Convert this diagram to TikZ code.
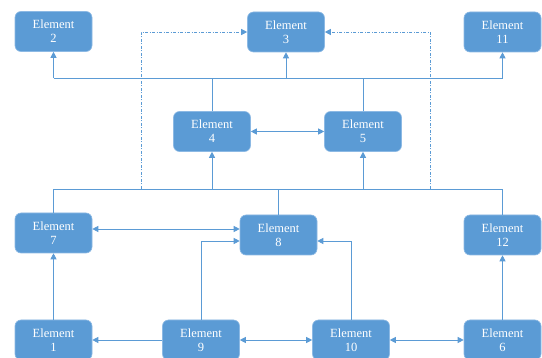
\documentclass[tikz,border=0pt]{standalone}
\usepackage{fontspec}
\setmainfont{Liberation Serif}
\usetikzlibrary{arrows.meta}
\definecolor{boxblue}{RGB}{91,155,213}
\definecolor{boxedge}{RGB}{140,185,228}
\definecolor{linkblue}{RGB}{91,155,213}
\begin{document}
\begin{tikzpicture}[x=1pt,y=-1pt,
  elem/.style={rectangle, rounded corners=6pt, fill=boxblue, draw=boxedge, line width=0.6pt,
    minimum width=77pt, minimum height=40pt, text=white, align=center,
    font=\fontsize{12.5}{14}\selectfont, inner sep=1pt},
  link/.style={draw=linkblue, line width=0.8pt},
  arr/.style={link, -{Triangle[length=6pt,width=6pt]}},
  darr/.style={link, {Triangle[length=6pt,width=6pt]}-{Triangle[length=6pt,width=6pt]}},
  dd/.style={dash pattern=on 3pt off 1.5pt on 1pt off 1.5pt, line width=0.7pt}]
\useasboundingbox (0,0) rectangle (542,358);
\fill[white] (0,0) rectangle (542,358);
% nodes
\node[elem] (e2)  at (53.5,31.5)  {Element\\2};
\node[elem] (e3)  at (286,32)   {Element\\3};
\node[elem] (e11) at (502.5,32) {Element\\11};
\node[elem] (e4)  at (212,131.5) {Element\\4};
\node[elem] (e5)  at (363,131.5) {Element\\5};
\node[elem] (e7)  at (53.5,233) {Element\\7};
\node[elem] (e8)  at (278.5,235) {Element\\8};
\node[elem] (e12) at (502.5,235) {Element\\12};
\node[elem] (e1)  at (53.5,340) {Element\\1};
\node[elem] (e9)  at (201,340)  {Element\\9};
\node[elem] (e10) at (351,340)  {Element\\10};
\node[elem] (e6)  at (502.5,340) {Element\\6};
% bus levels
\coordinate (tb) at (0,78);
\coordinate (bb) at (0,189);
\coordinate (dl) at (141,189);
\coordinate (dr) at (430,189);
% top bus
\draw[link] (e2.south |- tb) -- (e11.south |- tb);
\draw[link] (e4.north) -- (e4.north |- tb);
\draw[link] (e5.north) -- (e5.north |- tb);
\draw[arr] (e2.south |- tb) -- (e2.south);
\draw[arr] (e3.south |- tb) -- (e3.south);
\draw[arr] (e11.south |- tb) -- (e11.south);
% bottom bus
\draw[link] (e7.north) -- (e7.north |- bb) -- (e12.north |- bb) -- (e12.north);
\draw[link] (e8.north) -- (e8.north |- bb);
\draw[arr] (e4.south |- bb) -- (e4.south);
\draw[arr] (e5.south |- bb) -- (e5.south);
% dash-dot links to Element 3
\draw[arr,dd] (dl) |- (e3.west);
\draw[arr,dd] (dr) |- (e3.east);
% horizontal links
\draw[darr] (e4) -- (e5);
\draw[darr] (e7.east |- 0,229) -- (e8.west |- 0,229);
\draw[arr] (e9.north) |- (e8.west |- 0,241);
\draw[arr] (e10.north) |- (e8.east |- 0,241);
\draw[arr] (e1) -- (e7);
\draw[arr] (e9) -- (e1);
\draw[darr] (e9) -- (e10);
\draw[darr] (e10) -- (e6);
\draw[arr] (e6) -- (e12);
\end{tikzpicture}
\end{document}
